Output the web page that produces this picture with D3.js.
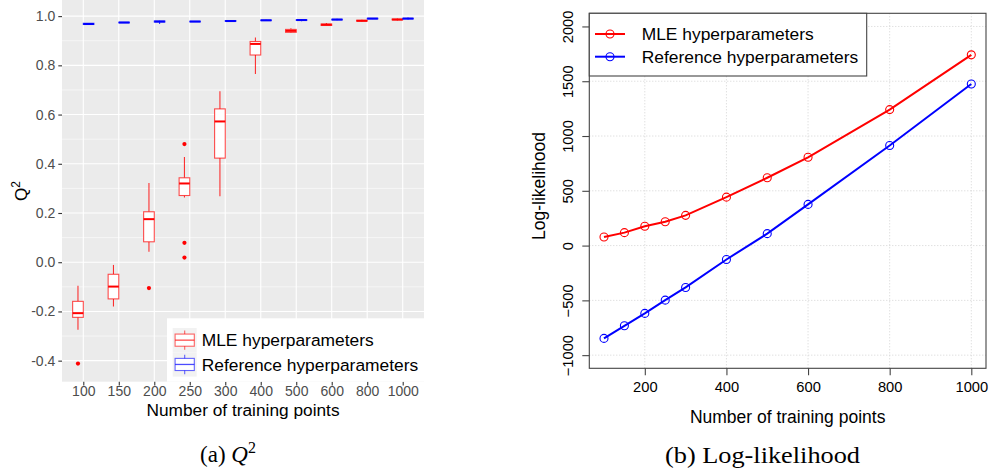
<!DOCTYPE html>
<html>
<head>
<meta charset="utf-8">
<script src="https://cdn.jsdelivr.net/npm/d3@7"></script>
<style>
  body { margin: 0; background: #fff; }
  svg { display: block; }
  text { font-family: "Liberation Sans", Arial, sans-serif; }
</style>
</head>
<body>
<svg id="chart" width="992" height="474"></svg>
<script>
// ---------------- DATA ----------------
// Panel (a): boxplots of Q^2
const categories = ["100", "150", "200", "250", "300", "400", "500", "600", "800", "1000"];
// [lower whisker, Q1, median, Q3, upper whisker]
const mleStats = [
  [-0.274, -0.224, -0.207, -0.159, -0.096],
  [-0.180, -0.149, -0.099, -0.049, -0.011],
  [0.043, 0.083, 0.175, 0.205, 0.322],
  [0.263, 0.271, 0.320, 0.343, 0.428],
  [0.268, 0.423, 0.572, 0.623, 0.695],
  [0.765, 0.842, 0.887, 0.897, 0.913],
  [0.931, 0.934, 0.940, 0.946, 0.951],
  [0.960, 0.962, 0.965, 0.968, 0.972],
  [0.978, 0.980, 0.981, 0.983, 0.985],
  [0.982, 0.985, 0.986, 0.988, 0.990]
];
const refStats = [
  [0.965, 0.966, 0.968, 0.971, 0.972],
  [0.972, 0.973, 0.974, 0.975, 0.976],
  [0.968, 0.976, 0.978, 0.980, 0.981],
  [0.976, 0.977, 0.978, 0.979, 0.980],
  [0.977, 0.979, 0.980, 0.982, 0.984],
  [0.981, 0.982, 0.983, 0.984, 0.985],
  [0.979, 0.983, 0.984, 0.985, 0.987],
  [0.983, 0.985, 0.986, 0.987, 0.989],
  [0.988, 0.989, 0.990, 0.991, 0.992],
  [0.986, 0.989, 0.990, 0.991, 0.994]
];
const mleOutliers = [
  ["100", -0.412],
  ["200", -0.105],
  ["250", 0.480],
  ["250", 0.079],
  ["250", 0.019]
];
const qTicks = [-0.4, -0.2, 0.0, 0.2, 0.4, 0.6, 0.8, 1.0];
const qTickLabels = ["-0.4", "-0.2", "0.0", "0.2", "0.4", "0.6", "0.8", "1.0"];
const qMinor = [-0.3, -0.1, 0.1, 0.3, 0.5, 0.7, 0.9];
const seriesNames = ["MLE hyperparameters", "Reference hyperparameters"];

// Panel (b): log-likelihood
const trainSizes = [100, 150, 200, 250, 300, 400, 500, 600, 800, 1000];
const mleLogLik = [78, 118, 176, 218, 276, 442, 619, 806, 1241, 1741];
const refLogLik = [-847, -732, -619, -498, -382, -127, 109, 376, 913, 1475];
const llXTicks = [200, 400, 600, 800, 1000];
const llYTicks = [-1000, -500, 0, 500, 1000, 1500, 2000];

// ---------------- DRAW ----------------
const svg = d3.select("#chart");
const RED = "#FF0000", BLUE = "#0000FF";

// ===== Panel (a) =====
const pa = { left: 62, right: 424, top: 0, bottom: 381.7 };
const xQ = d3.scalePoint().domain(categories).range([pa.left, pa.right]).padding(0.6);
const yQ = d3.scaleLinear().domain([-0.4855, 1.0655]).range([pa.bottom, pa.top]);
const step = xQ.step();
const boxW = step * 0.3, dodge = step * 0.15;

const ga = svg.append("g");
ga.append("rect").attr("x", pa.left).attr("y", pa.top)
  .attr("width", pa.right - pa.left).attr("height", pa.bottom - pa.top)
  .attr("fill", "#EBEBEB");
// minor grid
ga.selectAll(".minor").data(qMinor).enter().append("line")
  .attr("x1", pa.left).attr("x2", pa.right)
  .attr("y1", d => yQ(d)).attr("y2", d => yQ(d))
  .attr("stroke", "#fff").attr("stroke-width", 0.55);
// major grid
ga.selectAll(".major").data(qTicks).enter().append("line")
  .attr("x1", pa.left).attr("x2", pa.right)
  .attr("y1", d => yQ(d)).attr("y2", d => yQ(d))
  .attr("stroke", "#fff").attr("stroke-width", 1.1);
ga.selectAll(".vmajor").data(categories).enter().append("line")
  .attr("y1", pa.top).attr("y2", pa.bottom)
  .attr("x1", d => xQ(d)).attr("x2", d => xQ(d))
  .attr("stroke", "#fff").attr("stroke-width", 1.1);

function drawBoxes(stats, color, offset) {
  const g = ga.append("g");
  stats.forEach((s, i) => {
    const cx = xQ(categories[i]) + offset;
    const [lo, q1, med, q3, hi] = s;
    g.append("line").attr("x1", cx).attr("x2", cx)
      .attr("y1", yQ(hi)).attr("y2", yQ(q3))
      .attr("stroke", color).attr("stroke-width", 1.1).attr("stroke-opacity", 0.8);
    g.append("line").attr("x1", cx).attr("x2", cx)
      .attr("y1", yQ(q1)).attr("y2", yQ(lo))
      .attr("stroke", color).attr("stroke-width", 1.1).attr("stroke-opacity", 0.8);
    g.append("rect").attr("x", cx - boxW / 2).attr("width", boxW)
      .attr("y", yQ(q3)).attr("height", Math.max(0.5, yQ(q1) - yQ(q3)))
      .attr("fill", "#fff").attr("stroke", color).attr("stroke-width", 1.1)
      .attr("stroke-opacity", 0.7);
    g.append("line").attr("x1", cx - boxW / 2).attr("x2", cx + boxW / 2)
      .attr("y1", yQ(med)).attr("y2", yQ(med))
      .attr("stroke", color).attr("stroke-width", 2);
  });
}
drawBoxes(mleStats, RED, -dodge);
drawBoxes(refStats, BLUE, dodge);
ga.selectAll(".outl").data(mleOutliers).enter().append("circle")
  .attr("cx", d => xQ(d[0]) - dodge).attr("cy", d => yQ(d[1]))
  .attr("r", 2.1).attr("fill", RED);

// axes (a)
const yAxA = ga.append("g").attr("transform", `translate(${pa.left},0)`)
  .call(d3.axisLeft(yQ).tickValues(qTicks).tickFormat((d, i) => qTickLabels[i]).tickSize(3.7).tickPadding(3));
yAxA.select(".domain").remove();
yAxA.selectAll("line").attr("stroke", "#333").attr("stroke-width", 1.1);
yAxA.selectAll("text").attr("fill", "#4D4D4D").style("font-size", "14px");
const xAxA = ga.append("g").attr("transform", `translate(0,${pa.bottom})`)
  .call(d3.axisBottom(xQ).tickSize(3.7).tickPadding(1));
xAxA.select(".domain").remove();
xAxA.selectAll("line").attr("stroke", "#333").attr("stroke-width", 1.1);
xAxA.selectAll("text").attr("fill", "#4D4D4D").style("font-size", "14px");

ga.append("text").attr("x", (pa.left + pa.right) / 2).attr("y", 415.5)
  .attr("text-anchor", "middle").style("font-size", "17.3px").attr("fill", "#000")
  .text("Number of training points");
const qt = ga.append("text").attr("transform", "translate(27,191) rotate(-90)")
  .attr("text-anchor", "middle").style("font-size", "17px");
qt.append("tspan").text("Q");
qt.append("tspan").attr("dy", -7).style("font-size", "12px").text("2");

// legend (a)
const lgA = ga.append("g");
lgA.append("rect").attr("x", 167).attr("y", 318.3).attr("width", pa.right - 167)
  .attr("height", pa.bottom - 318.3).attr("fill", "#fff");
[RED, BLUE].forEach((c, i) => {
  const ky = 328 + i * 24.3, kx = 172.7, kw = 24, kh = 24.3;
  lgA.append("rect").attr("x", kx).attr("y", ky).attr("width", kw).attr("height", kh).attr("fill", "#F2F2F2");
  const cx = kx + kw / 2;
  lgA.append("line").attr("x1", cx).attr("x2", cx).attr("y1", ky + kh * 0.1).attr("y2", ky + kh * 0.9)
    .attr("stroke", c).attr("stroke-opacity", 0.6).attr("stroke-width", 1.1);
  lgA.append("rect").attr("x", kx + kw * 0.1).attr("y", ky + kh * 0.25).attr("width", kw * 0.8).attr("height", kh * 0.5)
    .attr("fill", "#fff").attr("stroke", c).attr("stroke-opacity", 0.6).attr("stroke-width", 1.1);
  lgA.append("line").attr("x1", kx + kw * 0.1).attr("x2", kx + kw * 0.9).attr("y1", ky + kh / 2).attr("y2", ky + kh / 2)
    .attr("stroke", c).attr("stroke-opacity", 0.7).attr("stroke-width", 1.3);
  lgA.append("text").attr("x", 201.7).attr("y", ky + kh / 2 + 6.2)
    .style("font-size", "17.4px").attr("fill", "#000").text(seriesNames[i]);
});

// ===== Panel (b) =====
const pb = { left: 589.3, right: 986, top: 13.3, bottom: 368.3 };
const xL = d3.scaleLinear().domain([64, 1036]).range([pb.left, pb.right]);
const yL = d3.scaleLinear().domain([-1120, 2120]).range([pb.bottom, pb.top]);
const gb = svg.append("g");

// grid
gb.selectAll(".gx").data(llXTicks).enter().append("line")
  .attr("x1", d => xL(d)).attr("x2", d => xL(d)).attr("y1", pb.top).attr("y2", pb.bottom)
  .attr("stroke", "#D3D3D3").attr("stroke-width", 1).attr("stroke-dasharray", "1,2");
gb.selectAll(".gy").data(llYTicks).enter().append("line")
  .attr("y1", d => yL(d)).attr("y2", d => yL(d)).attr("x1", pb.left).attr("x2", pb.right)
  .attr("stroke", "#D3D3D3").attr("stroke-width", 1).attr("stroke-dasharray", "1,2");

const line = d3.line().x((d, i) => xL(trainSizes[i])).y(d => yL(d));
[[mleLogLik, RED], [refLogLik, BLUE]].forEach(([vals, c]) => {
  gb.append("path").datum(vals).attr("d", line).attr("fill", "none")
    .attr("stroke", c).attr("stroke-width", 2);
  gb.selectAll(null).data(vals).enter().append("circle")
    .attr("cx", (d, i) => xL(trainSizes[i])).attr("cy", d => yL(d)).attr("r", 4)
    .attr("fill", "none").attr("stroke", c).attr("stroke-width", 1.1);
});

// box
gb.append("rect").attr("x", pb.left).attr("y", pb.top)
  .attr("width", pb.right - pb.left).attr("height", pb.bottom - pb.top)
  .attr("fill", "none").attr("stroke", "#444").attr("stroke-width", 1.1);

// axes (b)
const xAxB = gb.append("g").attr("transform", `translate(0,${pb.bottom})`)
  .call(d3.axisBottom(xL).tickValues(llXTicks).tickFormat(d3.format("d")).tickSize(7).tickPadding(6));
xAxB.select(".domain").remove();
xAxB.selectAll("line").attr("stroke", "#444").attr("stroke-width", 1.1);
xAxB.selectAll("text").attr("fill", "#000").style("font-size", "14.7px");

const yAxB = gb.append("g").attr("transform", `translate(${pb.left},0)`)
  .call(d3.axisLeft(yL).tickValues(llYTicks).tickFormat(d3.format("d")).tickSize(7).tickPadding(0));
yAxB.select(".domain").remove();
yAxB.selectAll("line").attr("stroke", "#444").attr("stroke-width", 1.1);
yAxB.selectAll("text").attr("fill", "#000").style("font-size", "14.7px")
  .attr("text-anchor", "middle").attr("dy", null).attr("x", null)
  .attr("transform", "translate(-21,0) rotate(-90)").attr("y", 0).attr("dy", "0.35em");

gb.append("text").attr("x", (pb.left + pb.right) / 2).attr("y", 422.5)
  .attr("text-anchor", "middle").style("font-size", "17.5px").text("Number of training points");
gb.append("text").attr("transform", "translate(545,186) rotate(-90)")
  .attr("text-anchor", "middle").style("font-size", "17.5px").text("Log-likelihood");

// legend (b)
const lgB = gb.append("g");
lgB.append("rect").attr("x", pb.left).attr("y", pb.top).attr("width", 866.7 - pb.left).attr("height", 76 - pb.top)
  .attr("fill", "#fff").attr("stroke", "#444").attr("stroke-width", 1.1);
[RED, BLUE].forEach((c, i) => {
  const ry = 34 + i * 22.7;
  lgB.append("line").attr("x1", 595).attr("x2", 625).attr("y1", ry).attr("y2", ry)
    .attr("stroke", c).attr("stroke-width", 2);
  lgB.append("circle").attr("cx", 610).attr("cy", ry).attr("r", 4)
    .attr("fill", "none").attr("stroke", c).attr("stroke-width", 1.1);
  lgB.append("text").attr("x", 641.7).attr("y", ry + 6.2)
    .style("font-size", "17.4px").text(seriesNames[i]);
});

// ===== Captions =====
const capA = svg.append("text").attr("x", 228).attr("y", 462).attr("text-anchor", "middle")
  .style("font-family", "'Liberation Serif', 'Times New Roman', serif").style("font-size", "23px");
capA.append("tspan").text("(a) ");
capA.append("tspan").style("font-style", "italic").text("Q");
capA.append("tspan").attr("dy", -9).style("font-size", "16px").text("2");
svg.append("text").attr("x", 762.5).attr("y", 463).attr("text-anchor", "middle")
  .style("font-family", "'Liberation Serif', 'Times New Roman', serif").style("font-size", "23px")
  .attr("textLength", 195).attr("lengthAdjust", "spacingAndGlyphs")
  .text("(b) Log-likelihood");
</script>
</body>
</html>
